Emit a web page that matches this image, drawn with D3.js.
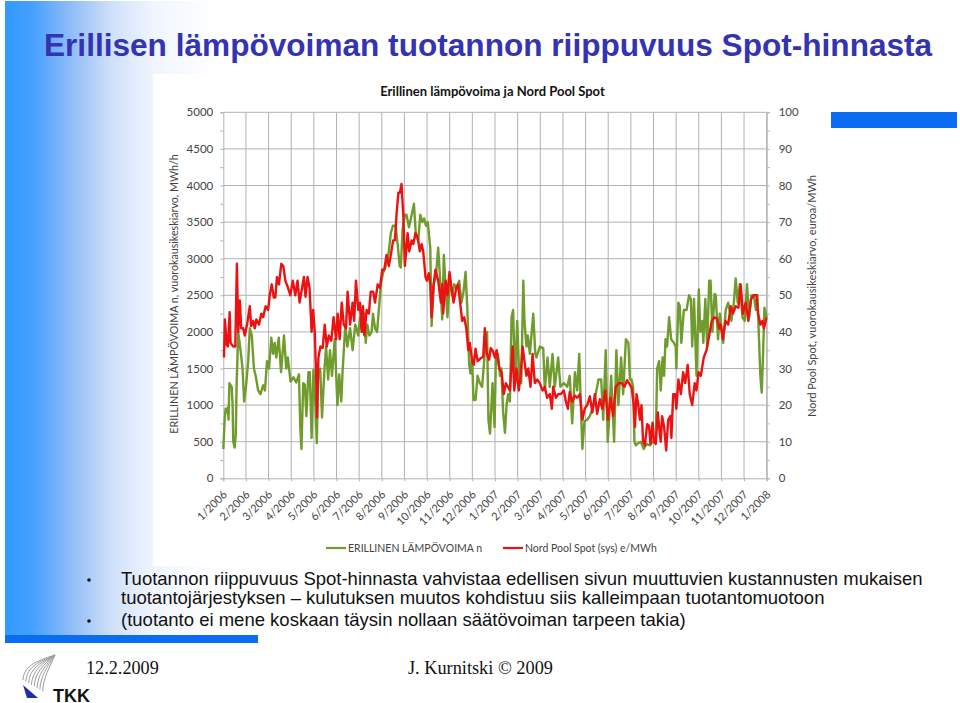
<!DOCTYPE html>
<html>
<head>
<meta charset="utf-8">
<script src="https://cdn.jsdelivr.net/npm/d3@7"></script>
<style>
html, body { margin: 0; padding: 0; background: #fff; }
svg { display: block; }
.chart-text { font-family: Lato, "Open Sans", sans-serif; fill: #444; }
.slide-text { font-family: "Liberation Sans", Arial, sans-serif; fill: #111; }
.foot-text { font-family: "Liberation Serif", "Times New Roman", serif; fill: #111; }
</style>
</head>
<body>
<div id="slide"></div>
<script>
// month offset from 1/2006, MWh/h
var gasPoints = [[0,400],[.06,800],[.1,950],[.17,900],[.2,970],[.23,800],[.27,1300],[.37,1250],[.41,1000],[.44,500],[.5,420],[.55,600],[.59,1300],[.66,2000],[.76,1750],[.85,1500],[.92,1050],[1,1250],[1.1,1600],[1.17,2050],[1.26,1950],[1.35,1500],[1.43,1400],[1.54,1200],[1.64,1150],[1.76,1270],[1.84,1200],[1.93,1600],[2.02,1500],[2.12,1920],[2.2,1700],[2.27,1850],[2.34,1650],[2.45,1920],[2.55,1450],[2.68,1950],[2.78,1500],[2.85,1650],[2.97,1320],[3.1,1380],[3.22,1310],[3.34,1420],[3.4,700],[3.45,400],[3.53,1300],[3.6,1280],[3.67,850],[3.76,1450],[3.82,1450],[3.9,550],[3.98,1480],[4.07,1000],[4.13,480],[4.19,1450],[4.28,1500],[4.36,830],[4.47,1500],[4.54,1800],[4.63,1350],[4.71,1750],[4.8,1400],[4.92,1900],[5.04,1000],[5.12,1420],[5.21,1050],[5.27,1470],[5.39,2100],[5.48,1800],[5.6,2050],[5.71,1750],[5.83,2100],[5.96,1950],[6.04,2200],[6.14,2000],[6.23,2250],[6.29,1850],[6.36,2100],[6.45,1950],[6.55,2000],[6.61,2250],[6.7,2050],[6.79,2000],[6.87,2300],[6.96,2650],[7.05,2800],[7.17,2900],[7.29,3050],[7.4,3350],[7.49,3450],[7.61,3450],[7.7,3200],[7.79,2900],[7.84,2880],[7.92,3400],[8.02,3600],[8.09,3600],[8.2,3430],[8.32,3600],[8.42,3750],[8.51,3300],[8.61,3250],[8.7,3600],[8.79,3500],[8.87,3550],[8.95,3450],[9.03,3500],[9.14,3150],[9.2,2080],[9.29,2650],[9.39,2750],[9.49,3150],[9.58,2700],[9.67,2170],[9.74,3050],[9.82,2600],[9.9,2200],[10,2700],[10.11,2500],[10.2,2650],[10.3,2600],[10.42,2700],[10.52,2400],[10.61,2550],[10.7,2820],[10.78,2300],[10.86,1550],[10.92,1430],[10.99,1650],[11.05,1070],[11.14,1070],[11.23,1400],[11.33,1300],[11.43,1250],[11.52,1600],[11.59,1900],[11.65,2000],[11.71,800],[11.78,610],[11.89,1300],[11.98,700],[12.04,1650],[12.13,1700],[12.22,1400],[12.28,1500],[12.36,900],[12.44,620],[12.51,1000],[12.58,1150],[12.66,1050],[12.73,2200],[12.8,2300],[12.89,1300],[12.98,2150],[13.07,1400],[13.16,1300],[13.25,2700],[13.3,2150],[13.39,1800],[13.45,1950],[13.54,1700],[13.69,2250],[13.78,1700],[13.83,1650],[13.98,1800],[14.13,1780],[14.2,1200],[14.32,1650],[14.42,1250],[14.54,1700],[14.64,1250],[14.79,1650],[14.89,1250],[15.04,1300],[15.19,1250],[15.3,1400],[15.41,750],[15.53,1450],[15.63,1200],[15.72,1700],[15.79,1000],[15.86,400],[15.95,780],[16.07,800],[16.19,850],[16.36,1000],[16.57,1350],[16.69,1350],[16.78,800],[16.89,1750],[16.98,500],[17.04,800],[17.13,1400],[17.19,1000],[17.26,500],[17.36,1750],[17.45,1000],[17.57,1650],[17.66,1150],[17.78,1900],[17.89,1850],[17.96,1350],[18.03,1350],[18.1,1250],[18.16,500],[18.22,450],[18.32,480],[18.44,500],[18.57,400],[18.69,470],[18.84,450],[18.96,500],[19.1,500],[19.16,1500],[19.25,1600],[19.32,1200],[19.4,1650],[19.47,1400],[19.53,1900],[19.6,1800],[19.69,2200],[19.78,1900],[19.9,1850],[19.98,1800],[20.01,1500],[20.1,2400],[20.16,2350],[20.23,1850],[20.34,2300],[20.46,2300],[20.57,2500],[20.65,2450],[20.71,1800],[20.79,2450],[20.9,1400],[21,2580],[21.07,2000],[21.16,2150],[21.2,1850],[21.29,2450],[21.37,1800],[21.46,2700],[21.52,2700],[21.6,2000],[21.7,2520],[21.75,2500],[21.85,1900],[21.93,2250],[22.08,1850],[22.19,2300],[22.3,2400],[22.44,2150],[22.55,2400],[22.63,2730],[22.72,2400],[22.81,2650],[22.93,2200],[23.03,2150],[23.13,2650],[23.22,2200],[23.33,2500],[23.43,2500],[23.52,2300],[23.59,2500],[23.66,1900],[23.72,1400],[23.78,1170],[23.84,1700],[23.9,2330],[23.99,2200]];

// month offset from 1/2006, e/MWh
var spotPoints = [[.03,33],[.07,43.4],[.15,36.6],[.2,36],[.28,45.4],[.32,37],[.44,36],[.53,36],[.6,58.6],[.66,40],[.73,48.6],[.79,41],[.88,41],[.95,39],[1.05,42],[1.17,47],[1.23,41.6],[1.32,43],[1.39,41],[1.46,43.4],[1.58,42],[1.68,45],[1.76,44],[1.87,47],[1.98,46],[2.05,50],[2.14,53],[2.23,49.4],[2.3,49.4],[2.37,55],[2.46,53],[2.56,58.6],[2.65,58],[2.74,54],[2.84,52.4],[2.96,50],[3.07,54],[3.18,50],[3.28,54],[3.37,48],[3.45,51],[3.56,55],[3.63,49.6],[3.72,55],[3.81,52],[3.9,40],[3.97,46],[4.04,40],[4.1,28],[4.14,16.6],[4.2,33],[4.29,36],[4.39,35.6],[4.48,42],[4.57,36],[4.66,39],[4.77,37.6],[4.87,44],[4.98,38],[5.05,45],[5.14,38],[5.23,48],[5.32,42],[5.42,41],[5.49,51],[5.6,42],[5.71,48],[5.78,43],[5.86,54],[5.96,46],[6.04,48],[6.11,40],[6.17,47],[6.23,39],[6.33,46],[6.43,45],[6.51,51],[6.62,51],[6.7,48],[6.82,53],[6.92,52],[7.02,57],[7.11,57],[7.21,61],[7.31,58],[7.4,61],[7.5,65],[7.58,65],[7.65,72],[7.73,78],[7.8,78],[7.87,80.4],[7.95,72],[8.02,58],[8.14,67],[8.21,62],[8.32,65],[8.39,64],[8.49,67],[8.58,66],[8.68,62],[8.76,64],[8.83,62],[8.93,55],[8.99,54],[9.08,56],[9.14,53],[9.2,44],[9.29,53],[9.37,57],[9.49,54],[9.61,48],[9.67,53],[9.71,45],[9.82,54],[9.9,50],[9.99,56.4],[10.08,52],[10.17,48],[10.29,52],[10.37,53],[10.46,48],[10.55,43],[10.64,44],[10.73,41],[10.82,35],[10.89,37],[10.99,32],[11.06,31],[11.14,35.4],[11.23,32],[11.37,32.8],[11.48,33.2],[11.55,41],[11.64,34],[11.74,32.4],[11.81,35.6],[11.89,35],[12,33],[12.07,35],[12.19,30],[12.29,29],[12.39,23],[12.48,26],[12.57,25],[12.66,24],[12.78,36],[12.85,24],[12.95,30],[13.05,24],[13.13,28],[13.22,36],[13.3,32],[13.39,28],[13.47,30],[13.57,25],[13.66,34],[13.76,26],[13.86,27],[13.98,26],[14.1,24],[14.2,25],[14.3,22],[14.42,23],[14.51,19],[14.57,25],[14.69,22],[14.79,23],[14.91,23],[15.04,24],[15.13,21],[15.22,19],[15.3,23.6],[15.41,21],[15.53,22.6],[15.63,22],[15.75,23],[15.86,16],[15.96,19],[16.07,20],[16.19,22.4],[16.3,18],[16.41,23],[16.51,17.6],[16.63,21.6],[16.74,19],[16.87,24],[16.99,16],[17.1,22],[17.22,17],[17.33,25],[17.48,26],[17.6,26],[17.72,25],[17.83,26.8],[17.96,25.6],[18.04,24.6],[18.13,20],[18.18,14],[18.25,23],[18.32,20.6],[18.4,16],[18.47,20],[18.54,10],[18.62,9],[18.72,14.8],[18.8,14.4],[18.87,9.4],[18.96,15.2],[19.02,10],[19.1,9.4],[19.19,18],[19.28,12],[19.32,10],[19.38,17],[19.47,14],[19.56,7.6],[19.65,16],[19.75,17],[19.79,11],[19.87,23],[19.96,23],[20.01,19],[20.1,27],[20.21,23],[20.31,29],[20.4,26],[20.51,31],[20.6,23],[20.71,20],[20.82,26],[20.9,24],[20.99,29],[21.09,28],[21.22,33],[21.34,35],[21.46,39],[21.57,43],[21.69,44],[21.81,43.6],[21.9,41],[21.97,42],[22.06,38],[22.18,43],[22.3,42],[22.41,47],[22.51,45],[22.63,47],[22.75,46.6],[22.85,53],[22.95,45],[23.07,48],[23.19,43],[23.31,49],[23.43,50],[23.55,50],[23.62,45],[23.72,42],[23.81,43],[23.88,41],[23.99,44]];

var monthLabels = ['1/2006','2/2006','3/2006','4/2006','5/2006','6/2006','7/2006','8/2006','9/2006','10/2006','11/2006','12/2006','1/2007','2/2007','3/2007','4/2007','5/2007','6/2007','7/2007','8/2007','9/2007','10/2007','11/2007','12/2007','1/2008'];
var gasTicks = [0,500,1000,1500,2000,2500,3000,3500,4000,4500,5000];
var spotTicks = [0,10,20,30,40,50,60,70,80,90,100];

var bullets = [
	{ bullet: true, text: 'Tuotannon riippuvuus Spot-hinnasta vahvistaa edellisen sivun muuttuvien kustannusten mukaisen', y: 585 },
	{ bullet: false, text: 'tuotantojärjestyksen – kulutuksen muutos kohdistuu siis kalleimpaan tuotantomuotoon', y: 604 },
	{ bullet: true, text: '(tuotanto ei mene koskaan täysin nollaan säätövoiman tarpeen takia)', y: 626 }
];

var svg = d3.select('#slide').append('svg').attr('width', 960).attr('height', 703);

// slide background
var grad = svg.append('defs').append('linearGradient').attr('id', 'band');
grad.append('stop').attr('offset', '0%').attr('stop-color', '#3399ff');
grad.append('stop').attr('offset', '13%').attr('stop-color', '#45a0ff');
grad.append('stop').attr('offset', '31%').attr('stop-color', '#8fbcf7');
grad.append('stop').attr('offset', '50%').attr('stop-color', '#cfe0fb');
grad.append('stop').attr('offset', '70%').attr('stop-color', '#f0f5fe');
grad.append('stop').attr('offset', '100%').attr('stop-color', '#ffffff');

svg.append('rect').attr('x', 5).attr('y', 1).attr('width', 212).attr('height', 635).attr('fill', 'url(#band)');
svg.append('rect').attr('x', 5).attr('y', 635).attr('width', 253).attr('height', 8).attr('fill', '#0a6cf0');
svg.append('rect').attr('x', 831).attr('y', 112).attr('width', 126).attr('height', 16).attr('fill', '#0a6cf0');
svg.append('rect').attr('x', 153).attr('y', 74).attr('width', 677).attr('height', 492).attr('fill', '#fff');

svg.append('text')
	.attr('x', 44).attr('y', 55.5)
	.attr('font-family', '"Liberation Sans", Arial, sans-serif')
	.attr('font-size', 31.6).attr('font-weight', 'bold')
	.attr('fill', '#3333b3')
	.text('Erillisen lämpövoiman tuotannon riippuvuus Spot-hinnasta');

// chart
var x = d3.scaleLinear().domain([0, 24]).range([223.3, 766.7]);
var yGas = d3.scaleLinear().domain([0, 5000]).range([478.3, 112.3]);
var ySpot = d3.scaleLinear().domain([0, 100]).range([478.3, 112.3]);

var chart = svg.append('g');

chart.append('g').selectAll('line').data(gasTicks.slice(1)).enter().append('line')
	.attr('x1', x(0)).attr('x2', x(24))
	.attr('y1', yGas).attr('y2', yGas)
	.attr('stroke', '#b2b2b2').attr('stroke-width', 1);

chart.append('g').selectAll('line').data(d3.range(1, 25)).enter().append('line')
	.attr('x1', x).attr('x2', x)
	.attr('y1', yGas(0)).attr('y2', yGas(5000))
	.attr('stroke', '#b2b2b2').attr('stroke-width', 1);

function styleAxis(g) {
	g.selectAll('.domain').attr('stroke', '#b2b2b2');
	g.selectAll('.tick line').attr('stroke', '#b2b2b2');
	g.selectAll('.tick text')
		.attr('class', 'chart-text')
		.attr('font-family', null)
		.style('font-size', '11.5px');
}

var leftAxis = d3.axisLeft(yGas).tickValues(d3.range(0, 5001, 250))
	.tickSize(3).tickPadding(7)
	.tickFormat(function (d) { return gasTicks.indexOf(d) >= 0 ? d : ''; });
var rightAxis = d3.axisRight(ySpot).tickValues(d3.range(0, 101, 5))
	.tickSize(3).tickPadding(9)
	.tickFormat(function (d) { return spotTicks.indexOf(d) >= 0 ? d : ''; });
var bottomAxis = d3.axisBottom(x).tickValues(d3.range(0, 25))
	.tickSize(3)
	.tickFormat(function (d) { return monthLabels[d]; });

chart.append('g').attr('transform', 'translate(' + x(0) + ',0)').call(leftAxis).call(styleAxis);
chart.append('g').attr('transform', 'translate(' + x(24) + ',0)').call(rightAxis).call(styleAxis);

var bottom = chart.append('g').attr('transform', 'translate(0,' + yGas(0) + ')').call(bottomAxis).call(styleAxis);
bottom.selectAll('.tick text')
	.attr('text-anchor', 'end')
	.attr('dy', 0)
	.attr('y', 0)
	.style('font-size', '11px')
	.attr('transform', 'translate(4,17) rotate(-45)');

var line = d3.line();

chart.append('path')
	.attr('d', line(gasPoints.map(function (d) { return [x(d[0]), yGas(d[1])]; })))
	.attr('fill', 'none').attr('stroke', '#6f9c2c').attr('stroke-width', 2.4).attr('stroke-linejoin', 'round');

chart.append('path')
	.attr('d', line(spotPoints.map(function (d) { return [x(d[0]), ySpot(d[1])]; })))
	.attr('fill', 'none').attr('stroke', '#ee1111').attr('stroke-width', 2.4).attr('stroke-linejoin', 'round');

// chart texts
chart.append('text').attr('class', 'chart-text')
	.attr('x', 492.5).attr('y', 95.5).attr('text-anchor', 'middle')
	.style('font-size', '13px').style('font-weight', 'bold').style('fill', '#111')
	.text('Erillinen lämpövoima ja Nord Pool Spot');

chart.append('text').attr('class', 'chart-text')
	.attr('transform', 'translate(178,294) rotate(-90)').attr('text-anchor', 'middle')
	.style('font-size', '10.7px')
	.text('ERILLINEN LÄMPÖVOIMA n, vuorokausikeskiarvo, MWh/h');

chart.append('text').attr('class', 'chart-text')
	.attr('transform', 'translate(816,296) rotate(-90)').attr('text-anchor', 'middle')
	.style('font-size', '11px')
	.text('Nord Pool Spot, vuorokausikeskiarvo, euroa/MWh');

var legend = [
	{ label: 'ERILLINEN LÄMPÖVOIMA n', color: '#6f9c2c', x: 326 },
	{ label: 'Nord Pool Spot (sys) e/MWh', color: '#ee1111', x: 503 }
];
var legendItems = chart.append('g').selectAll('g').data(legend).enter().append('g')
	.attr('transform', function (d) { return 'translate(' + d.x + ',548)'; });
legendItems.append('line').attr('x1', 0).attr('x2', 20)
	.attr('stroke', function (d) { return d.color; }).attr('stroke-width', 2.2);
legendItems.append('text').attr('class', 'chart-text')
	.attr('x', 22).attr('y', 4)
	.style('font-size', '10.5px')
	.text(function (d) { return d.label; });

// bullets
var rows = svg.append('g').selectAll('g').data(bullets).enter().append('g');
rows.append('text').attr('class', 'slide-text')
	.attr('x', 121).attr('y', function (d) { return d.y; })
	.attr('font-size', 18.5)
	.text(function (d) { return d.text; });
rows.filter(function (d) { return d.bullet; }).append('circle')
	.attr('cx', 89).attr('cy', function (d) { return d.y - 5; }).attr('r', 1.8).attr('fill', '#111');

// footer
svg.append('text').attr('class', 'foot-text').attr('x', 86).attr('y', 674).attr('font-size', 18.2).text('12.2.2009');
svg.append('text').attr('class', 'foot-text').attr('x', 408).attr('y', 674).attr('font-size', 18.3).text('J. Kurnitski © 2009');
svg.append('text').attr('x', 53).attr('y', 701.5)
	.attr('font-family', '"Liberation Sans", Arial, sans-serif')
	.attr('font-size', 18).attr('font-weight', 'bold').attr('fill', '#111')
	.text('TKK');

// logo
var logo = svg.append('g').attr('fill', 'none').attr('stroke', '#9c9c9c').attr('stroke-width', 1);
d3.range(0, 8).forEach(function (i) {
	var ex = 23 + i * 2.8, ey = 680 + i * 1.6;
	logo.append('path').attr('d', 'M' + ex + ',' + ey + ' C' + (ex + 1) + ',' + (ey - 14) + ' ' + (34 + i * 2.2) + ',' + (662 + i * 0.8) + ' 55,655');
});
svg.append('path').attr('d', 'M23,685 L38,698 L27,698 Z').attr('fill', '#1f2fa8');
</script>
</body>
</html>
